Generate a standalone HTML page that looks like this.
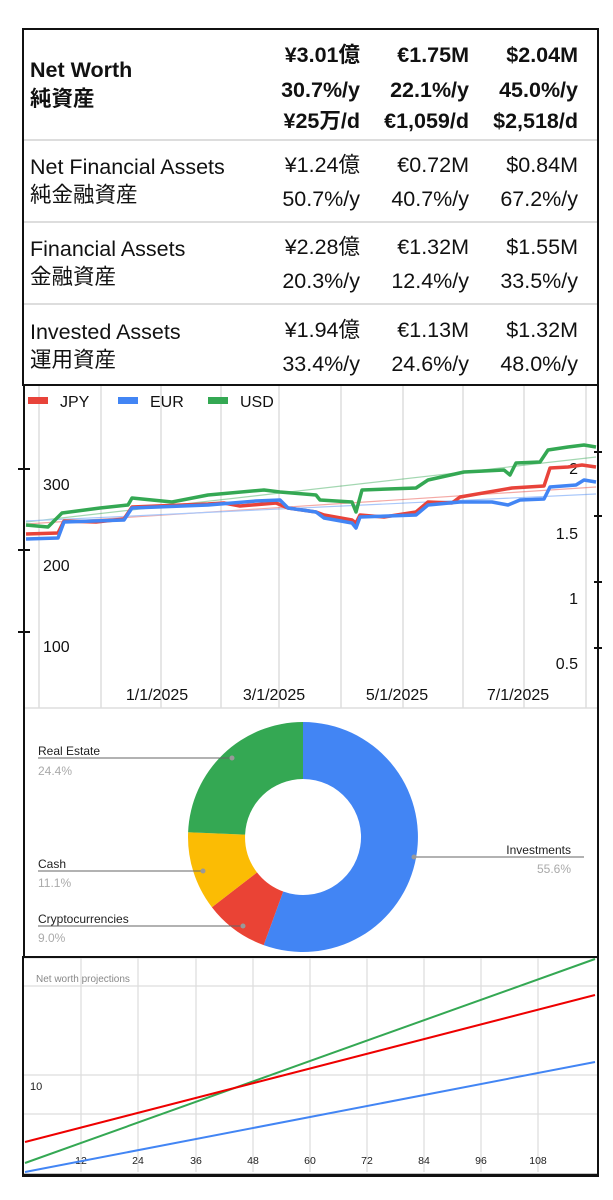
<!DOCTYPE html>
<html><head><meta charset="utf-8"><style>
html,body{margin:0;padding:0;background:#fff;}
svg{display:block;}
text{font-family:"Liberation Sans","Noto Sans CJK JP",sans-serif;}
</style></head><body>
<svg width="613" height="1200" viewBox="0 0 613 1200" xmlns="http://www.w3.org/2000/svg">
<rect width="613" height="1200" fill="#fff"/>
<!-- table -->
<rect x="23" y="29" width="575" height="356" fill="none" stroke="#111" stroke-width="2"/>
<g fill="#ddd"><rect x="24" y="139" width="573" height="2"/><rect x="24" y="221" width="573" height="2"/><rect x="24" y="303" width="573" height="2"/></g>
<g font-size="21.5" fill="#111">
<text x="30" y="77" font-weight="bold">Net Worth</text>
<text x="30" y="106" font-weight="bold">純資産</text>
<g text-anchor="end" font-weight="bold">
<text x="360" y="62">¥3.01億</text><text x="469" y="62">€1.75M</text><text x="578" y="62">$2.04M</text>
<text x="360" y="97">30.7%/y</text><text x="469" y="97">22.1%/y</text><text x="578" y="97">45.0%/y</text>
<text x="360" y="128">¥25万/d</text><text x="469" y="128">€1,059/d</text><text x="578" y="128">$2,518/d</text>
</g>
<text x="30" y="174">Net Financial Assets</text><text x="30" y="202">純金融資産</text>
<text x="30" y="256">Financial Assets</text><text x="30" y="284">金融資産</text>
<text x="30" y="339">Invested Assets</text><text x="30" y="367">運用資産</text>
<g text-anchor="end">
<text x="360" y="172">¥1.24億</text><text x="469" y="172">€0.72M</text><text x="578" y="172">$0.84M</text>
<text x="360" y="206">50.7%/y</text><text x="469" y="206">40.7%/y</text><text x="578" y="206">67.2%/y</text>
<text x="360" y="254">¥2.28億</text><text x="469" y="254">€1.32M</text><text x="578" y="254">$1.55M</text>
<text x="360" y="288">20.3%/y</text><text x="469" y="288">12.4%/y</text><text x="578" y="288">33.5%/y</text>
<text x="360" y="337">¥1.94億</text><text x="469" y="337">€1.13M</text><text x="578" y="337">$1.32M</text>
<text x="360" y="371">33.4%/y</text><text x="469" y="371">24.6%/y</text><text x="578" y="371">48.0%/y</text>
</g></g>
<!-- chart 1 -->
<g stroke="#ddd" stroke-width="1.5">
<line x1="39" y1="386" x2="39" y2="708"/><line x1="101" y1="386" x2="101" y2="708"/><line x1="161" y1="386" x2="161" y2="708"/>
<line x1="221" y1="386" x2="221" y2="708"/><line x1="279" y1="386" x2="279" y2="708"/><line x1="341" y1="386" x2="341" y2="708"/>
<line x1="403" y1="386" x2="403" y2="708"/><line x1="463" y1="386" x2="463" y2="708"/><line x1="524" y1="386" x2="524" y2="708"/><line x1="586" y1="386" x2="586" y2="708"/>
<line x1="24" y1="708" x2="598" y2="708"/>
</g>
<g stroke="#111" stroke-width="2">
<line x1="24" y1="386" x2="24" y2="712"/><line x1="598" y1="386" x2="598" y2="712"/>
<line x1="18" y1="469" x2="30" y2="469"/><line x1="18" y1="550" x2="30" y2="550"/><line x1="18" y1="632" x2="30" y2="632"/>
<line x1="594" y1="452" x2="602" y2="452"/><line x1="594" y1="516" x2="602" y2="516"/><line x1="594" y1="582" x2="602" y2="582"/><line x1="594" y1="648" x2="602" y2="648"/>
</g>
<g font-size="16" fill="#111">
<text x="43" y="490">300</text><text x="43" y="571">200</text><text x="43" y="652">100</text>
<text x="578" y="474" text-anchor="end">2</text><text x="578" y="539" text-anchor="end">1.5</text><text x="578" y="604" text-anchor="end">1</text><text x="578" y="669" text-anchor="end">0.5</text>
<g text-anchor="middle"><text x="157" y="700">1/1/2025</text><text x="274" y="700">3/1/2025</text><text x="397" y="700">5/1/2025</text><text x="518" y="700">7/1/2025</text></g>
<text x="60" y="407">JPY</text><text x="150" y="407">EUR</text><text x="240" y="407">USD</text>
</g>
<rect x="28" y="397" width="20" height="7" fill="#e8433a"/><rect x="118" y="397" width="20" height="7" fill="#4285f4"/><rect x="208" y="397" width="20" height="7" fill="#34a853"/>
<g stroke-width="1.2" opacity="0.45">
<line x1="26" y1="522" x2="596" y2="457" stroke="#34a853"/>
<line x1="26" y1="524" x2="596" y2="487" stroke="#e8433a"/>
<line x1="26" y1="521" x2="596" y2="494" stroke="#4285f4"/>
</g>
<g fill="none" stroke-width="3.5" stroke-linejoin="round">
<polyline stroke="#34a853" points="26,525 48,527 62,513 100,508 128,505 132,498 172,502 208,495 264,490 280,492 316,495 320,500 352,502 356,512 362,490 416,488 428,480 464,472 504,470 510,475 516,463 540,462 548,450 568,447 584,445 596,447"/>
<polyline stroke="#e8433a" points="26,534 58,533 64,521 96,522 124,519 132,507 208,504 224,503 240,506 276,503 288,508 316,512 324,515 352,520 356,523 360,515 384,517 416,512 428,502 452,503 460,497 512,488 544,486 550,468 568,467 582,465 596,467"/>
<polyline stroke="#4285f4" points="26,539 58,538 64,522 124,520 132,508 208,505 256,501 280,500 288,508 316,512 324,518 352,523 356,528 360,517 416,515 428,505 460,502 492,502 508,505 520,500 544,499 550,487 576,485 584,480 596,482"/>
</g>
<!-- donut -->
<line x1="24" y1="710" x2="24" y2="958" stroke="#111" stroke-width="2"/><line x1="598" y1="710" x2="598" y2="958" stroke="#111" stroke-width="2"/>
<path d="M303,722 A115,115 0 1 1 263.7,945.1 L283.2,891.5 A58,58 0 1 0 303,779 Z" fill="#4285f4"/>
<path d="M263.7,945.1 A115,115 0 0 1 211.9,907.2 L257,872.4 A58,58 0 0 0 283.2,891.5 Z" fill="#ea4335"/>
<path d="M211.9,907.2 A115,115 0 0 1 188.1,832.2 L245.1,834.6 A58,58 0 0 0 257,872.4 Z" fill="#fbbc04"/>
<path d="M188.1,832.2 A115,115 0 0 1 303,722 L303,779 A58,58 0 0 0 245.1,834.6 Z" fill="#34a853"/>
<g stroke="#666" stroke-width="1">
<line x1="38" y1="758" x2="232" y2="758"/><line x1="38" y1="871" x2="203" y2="871"/><line x1="38" y1="926" x2="243" y2="926"/><line x1="414" y1="857" x2="584" y2="857"/>
</g>
<g fill="#999"><circle cx="232" cy="758" r="2.5"/><circle cx="203" cy="871" r="2.5"/><circle cx="243" cy="926" r="2.5"/><circle cx="414" cy="857" r="2.5"/></g>
<g font-size="12">
<text x="38" y="755" fill="#222">Real Estate</text><text x="38" y="775" fill="#aaa">24.4%</text>
<text x="38" y="868" fill="#222">Cash</text><text x="38" y="887" fill="#aaa">11.1%</text>
<text x="38" y="923" fill="#222">Cryptocurrencies</text><text x="38" y="942" fill="#aaa">9.0%</text>
<text x="571" y="854" fill="#222" text-anchor="end">Investments</text><text x="571" y="873" fill="#aaa" text-anchor="end">55.6%</text>
</g>
<!-- projections -->
<g stroke="#ddd" stroke-width="1.2">
<line x1="24" y1="958" x2="598" y2="958"/><line x1="24" y1="986" x2="598" y2="986"/><line x1="24" y1="1075" x2="598" y2="1075"/><line x1="24" y1="1114" x2="598" y2="1114"/>
<line x1="81" y1="958" x2="81" y2="1172"/><line x1="138" y1="958" x2="138" y2="1172"/><line x1="196" y1="958" x2="196" y2="1172"/><line x1="253" y1="958" x2="253" y2="1172"/><line x1="310" y1="958" x2="310" y2="1172"/><line x1="367" y1="958" x2="367" y2="1172"/><line x1="424" y1="958" x2="424" y2="1172"/><line x1="481" y1="958" x2="481" y2="1172"/><line x1="538" y1="958" x2="538" y2="1172"/>
</g>
<text x="36" y="982" font-size="10" fill="#888">Net worth projections</text>
<text x="30" y="1090" font-size="11" fill="#222">10</text>
<g font-size="10.5" fill="#222" text-anchor="middle"><text x="81" y="1164">12</text><text x="138" y="1164">24</text><text x="196" y="1164">36</text><text x="253" y="1164">48</text><text x="310" y="1164">60</text><text x="367" y="1164">72</text><text x="424" y="1164">84</text><text x="481" y="1164">96</text><text x="538" y="1164">108</text></g>
<g stroke-width="2">
<line x1="25" y1="1163" x2="595" y2="959" stroke="#34a853"/>
<line x1="25" y1="1142" x2="595" y2="995" stroke="#e00"/>
<line x1="25" y1="1172" x2="595" y2="1062" stroke="#4285f4"/>
</g>
<rect x="23" y="957" width="575" height="219" fill="none" stroke="#111" stroke-width="2"/>
<line x1="24" y1="1175" x2="598" y2="1175" stroke="#111" stroke-width="2.5"/>
</svg>
</body></html>
